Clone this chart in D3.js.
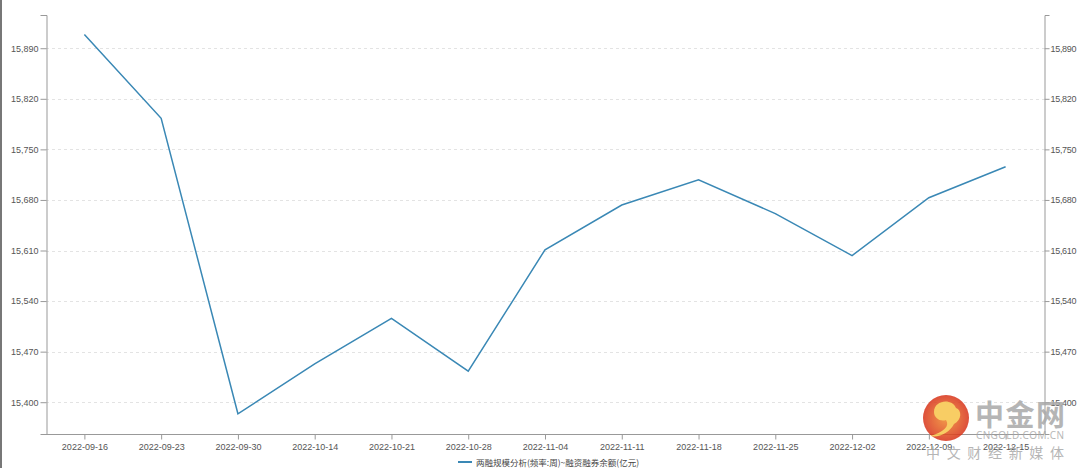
<!DOCTYPE html>
<html>
<head>
<meta charset="utf-8">
<script src="https://cdn.jsdelivr.net/npm/d3@7"></script>
<style>
  html, body { margin: 0; padding: 0; background: #fff; }
  svg { display: block; font-family: "Open Sans", "Noto Sans", "Noto Sans CJK SC", sans-serif; }
</style>
</head>
<body>
<div id="chart"></div>
<script>
const dates = ["2022-09-16", "2022-09-23", "2022-09-30", "2022-10-14", "2022-10-21", "2022-10-28",
  "2022-11-04", "2022-11-11", "2022-11-18", "2022-11-25", "2022-12-02", "2022-12-09", "2022-12-15"]
const balance = [15909, 15793, 15384, 15453, 15516, 15443, 15611, 15673, 15708, 15661, 15603, 15683, 15726]
const yTicks = [15400, 15470, 15540, 15610, 15680, 15750, 15820, 15890]
const seriesName = "两融规模分析(频率:周)~融资融券余额(亿元)"

const width = 1080
const height = 468
const margin = { top: 15, right: 36, bottom: 34, left: 46 }

const svg = d3.select("#chart")
  .append("svg")
  .attr("width", width)
  .attr("height", height)

// left edge bar
svg.append("rect")
  .attr("x", 0).attr("y", 0)
  .attr("width", 2).attr("height", height)
  .attr("fill", "#777")

const x = d3.scalePoint()
  .domain(dates)
  .range([margin.left, width - margin.right])
  .padding(0.5)

const y = d3.scaleLinear()
  .domain([15356, 15936])
  .range([height - margin.bottom, margin.top])

// Grid
svg.append("g")
  .selectAll("line")
  .data(yTicks)
  .join("line")
  .attr("x1", margin.left)
  .attr("x2", width - margin.right)
  .attr("y1", d => Math.round(y(d)) + 0.5)
  .attr("y2", d => Math.round(y(d)) + 0.5)
  .attr("stroke", "#e3e3e3")
  .attr("stroke-dasharray", "3,3")

const fmt = d3.format(",")

// Axes
const styleAxis = g => {
  g.select(".domain").attr("stroke", "#999")
  g.selectAll(".tick line").attr("stroke", "#999")
  g.selectAll(".tick text").attr("fill", "#555").attr("font-size", 9)
}

svg.append("g")
  .attr("transform", `translate(${margin.left + 0.5},0)`)
  .call(d3.axisLeft(y).tickValues(yTicks).tickFormat(fmt).tickSizeOuter(0).tickSize(6).tickPadding(2))
  .call(styleAxis)

svg.append("g")
  .attr("transform", `translate(${width - margin.right + 0.5},0)`)
  .call(d3.axisRight(y).tickValues(yTicks).tickFormat(fmt).tickSizeOuter(0).tickSize(5).tickPadding(1))
  .call(styleAxis)
  .call(g => g.selectAll(".tick text").attr("letter-spacing", -0.3))

svg.append("g")
  .attr("transform", `translate(0,${height - margin.bottom + 0.5})`)
  .call(d3.axisBottom(x).tickSizeOuter(0).tickSize(5).tickPadding(4))
  .call(styleAxis)
  .call(g => g.select(".domain").attr("d", `M${margin.left},0H${width - margin.right}`))

// Line
const line = d3.line()
  .x((d, i) => x(dates[i]))
  .y(d => y(d))

svg.append("path")
  .datum(balance)
  .attr("fill", "none")
  .attr("stroke", "#3a88b5")
  .attr("stroke-width", 1.5)
  .attr("d", line)

// Legend
const legend = svg.append("g").attr("transform", "translate(458,462)")
legend.append("line")
  .attr("x1", 0).attr("x2", 14)
  .attr("stroke", "#3a88b5")
  .attr("stroke-width", 2)
legend.append("text")
  .attr("x", 18)
  .attr("y", 3.5)
  .attr("font-size", 8.5)
  .attr("fill", "#444")
  .attr("font-family", "'Noto Sans CJK SC', sans-serif")
  .text(seriesName)

// Watermark
const wm = svg.append("g").attr("opacity", 0.85)
const grad = svg.append("defs").append("radialGradient").attr("id", "logo")
grad.append("stop").attr("offset", "0%").attr("stop-color", "#f08a2a")
grad.append("stop").attr("offset", "100%").attr("stop-color", "#d8321a")
wm.append("circle")
  .attr("cx", 946).attr("cy", 418).attr("r", 23)
  .attr("fill", "url(#logo)")
wm.append("path")
  .attr("d", "M934,412 C934,400 952,398 956,408 C962,410 962,420 954,424 C950,432 940,438 930,436 C944,432 950,426 946,420 C940,422 934,418 934,412 Z")
  .attr("fill", "#f7c54a")
wm.append("text")
  .attr("x", 975).attr("y", 426)
  .attr("font-size", 29)
  .attr("font-weight", "bold")
  .attr("fill", "#a9a9a9")
  .attr("textLength", 90)
  .attr("font-family", "'Noto Sans CJK SC', sans-serif")
  .text("中金网")
wm.append("text")
  .attr("x", 976).attr("y", 439)
  .attr("font-size", 10)
  .attr("textLength", 88)
  .attr("fill", "#a9a9a9")
  .text("CNGOLD.COM.CN")
wm.append("text")
  .attr("x", 926).attr("y", 458)
  .attr("font-size", 14)
  .attr("textLength", 138)
  .attr("fill", "#a9a9a9")
  .attr("font-family", "'Noto Sans CJK SC', sans-serif")
  .text("中文财经新媒体")
</script>
</body>
</html>
